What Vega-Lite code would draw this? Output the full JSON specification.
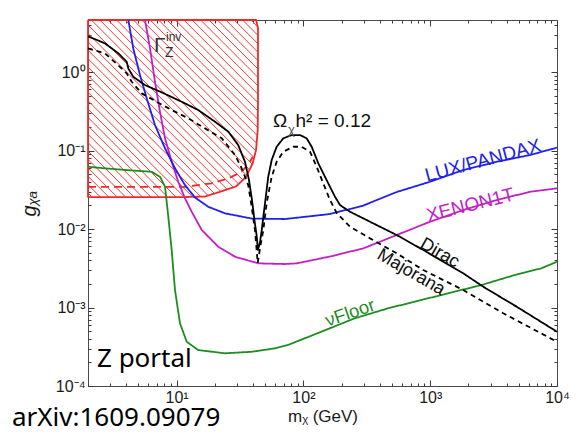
{
  "$schema": "https://vega.github.io/schema/vega-lite/v6.json",
  "width": 469,
  "height": 366,
  "autosize": {"type": "none"},
  "padding": {"left": 88, "top": 20, "right": 21, "bottom": 49},
  "background": "white",
  "config": {
    "view": {"stroke": "#4a4a4a", "strokeWidth": 1},
    "axis": {
      "domain": false,
      "grid": false,
      "tickColor": "#3a3a3a",
      "tickWidth": 1,
      "labelFont": "Liberation Sans",
      "labelFontSize": 16,
      "labelColor": "#1a1a1a",
      "titleFont": "Liberation Sans",
      "titleFontWeight": "normal",
      "titleColor": "#1a1a1a"
    },
    "text": {"font": "Liberation Sans"}
  },
  "datasets": {
    "curves": [
      {"s": "Zinv", "m": 2, "g": 4.6}, {"s": "Zinv", "m": 2, "g": 0.02554}, {"s": "Zinv", "m": 11.86, "g": 0.02554},
      {"s": "Zinv", "m": 16.7, "g": 0.0259}, {"s": "Zinv", "m": 21.7, "g": 0.0296}, {"s": "Zinv", "m": 29.4, "g": 0.0348},
      {"s": "Zinv", "m": 35.2, "g": 0.0459}, {"s": "Zinv", "m": 39.8, "g": 0.0686}, {"s": "Zinv", "m": 42.3, "g": 0.1014},
      {"s": "Zinv", "m": 43.6, "g": 0.182}, {"s": "Zinv", "m": 43.83, "g": 0.44}, {"s": "Zinv", "m": 43.83, "g": 3.63},
      {"s": "Zinv", "m": 42.3, "g": 4.6}, {"s": "Zinv", "m": 2, "g": 4.6},
      {"s": "Zdash", "m": 2, "g": 0.0345}, {"s": "Zdash", "m": 11.64, "g": 0.0345}, {"s": "Zdash", "m": 18.9, "g": 0.0382},
      {"s": "Zdash", "m": 25.6, "g": 0.0442}, {"s": "Zdash", "m": 32.6, "g": 0.0536}, {"s": "Zdash", "m": 37.9, "g": 0.0719},
      {"s": "Zdash", "m": 39.8, "g": 0.0833},
      {"s": "nuFloor", "m": 2, "g": 0.0621}, {"s": "nuFloor", "m": 2.72, "g": 0.0593}, {"s": "nuFloor", "m": 4.7, "g": 0.0553},
      {"s": "nuFloor", "m": 6.36, "g": 0.0536}, {"s": "nuFloor", "m": 7.39, "g": 0.0463}, {"s": "nuFloor", "m": 8.1, "g": 0.0345},
      {"s": "nuFloor", "m": 8.6, "g": 0.01433}, {"s": "nuFloor", "m": 9.14, "g": 0.0054}, {"s": "nuFloor", "m": 9.71, "g": 0.00167},
      {"s": "nuFloor", "m": 10.63, "g": 0.000629}, {"s": "nuFloor", "m": 12.01, "g": 0.000366}, {"s": "nuFloor", "m": 14.8, "g": 0.000287},
      {"s": "nuFloor", "m": 24.1, "g": 0.000261}, {"s": "nuFloor", "m": 39.1, "g": 0.000273}, {"s": "nuFloor", "m": 59.7, "g": 0.000302},
      {"s": "nuFloor", "m": 75.5, "g": 0.000333}, {"s": "nuFloor", "m": 138.3, "g": 0.000491}, {"s": "nuFloor", "m": 253.7, "g": 0.000728},
      {"s": "nuFloor", "m": 464.5, "g": 0.000976}, {"s": "nuFloor", "m": 850.6, "g": 0.001245}, {"s": "nuFloor", "m": 1381, "g": 0.001516},
      {"s": "nuFloor", "m": 2528, "g": 0.001932}, {"s": "nuFloor", "m": 4636, "g": 0.002592}, {"s": "nuFloor", "m": 7516, "g": 0.003155},
      {"s": "nuFloor", "m": 10000, "g": 0.00383},
      {"s": "XENON1T", "m": 5.63, "g": 4.6}, {"s": "XENON1T", "m": 6.17, "g": 2.0}, {"s": "XENON1T", "m": 6.75, "g": 0.752},
      {"s": "XENON1T", "m": 7.39, "g": 0.312}, {"s": "XENON1T", "m": 8.1, "g": 0.1429}, {"s": "XENON1T", "m": 9.14, "g": 0.0719},
      {"s": "XENON1T", "m": 10.3, "g": 0.04}, {"s": "XENON1T", "m": 11.64, "g": 0.0246}, {"s": "XENON1T", "m": 13.15, "g": 0.0166},
      {"s": "XENON1T", "m": 15.8, "g": 0.0097}, {"s": "XENON1T", "m": 21.3, "g": 0.00594}, {"s": "XENON1T", "m": 28.9, "g": 0.00443},
      {"s": "XENON1T", "m": 44.2, "g": 0.00365}, {"s": "XENON1T", "m": 71.5, "g": 0.00358}, {"s": "XENON1T", "m": 88.5, "g": 0.00365},
      {"s": "XENON1T", "m": 162, "g": 0.00446}, {"s": "XENON1T", "m": 296.7, "g": 0.00567}, {"s": "XENON1T", "m": 544, "g": 0.00838},
      {"s": "XENON1T", "m": 996, "g": 0.01238}, {"s": "XENON1T", "m": 1823, "g": 0.01745}, {"s": "XENON1T", "m": 3344, "g": 0.0234},
      {"s": "XENON1T", "m": 6120, "g": 0.0298}, {"s": "XENON1T", "m": 10000, "g": 0.033},
      {"s": "LUX", "m": 4.16, "g": 4.6}, {"s": "LUX", "m": 4.55, "g": 2.0}, {"s": "LUX", "m": 5.14, "g": 0.915},
      {"s": "LUX", "m": 5.81, "g": 0.462}, {"s": "LUX", "m": 6.75, "g": 0.211}, {"s": "LUX", "m": 8.1, "g": 0.1066},
      {"s": "LUX", "m": 9.71, "g": 0.0593}, {"s": "LUX", "m": 11.64, "g": 0.0363}, {"s": "LUX", "m": 13.96, "g": 0.0252},
      {"s": "LUX", "m": 17.77, "g": 0.0192}, {"s": "LUX", "m": 24.1, "g": 0.01583}, {"s": "LUX", "m": 39.1, "g": 0.01359},
      {"s": "LUX", "m": 71.5, "g": 0.0134}, {"s": "LUX", "m": 162, "g": 0.01551}, {"s": "LUX", "m": 296.7, "g": 0.0199},
      {"s": "LUX", "m": 544, "g": 0.0296}, {"s": "LUX", "m": 996, "g": 0.04}, {"s": "LUX", "m": 1823, "g": 0.0564},
      {"s": "LUX", "m": 3344, "g": 0.0719}, {"s": "LUX", "m": 6120, "g": 0.0876}, {"s": "LUX", "m": 10000, "g": 0.109},
      {"s": "Majorana", "m": 2, "g": 2.0}, {"s": "Majorana", "m": 2.72, "g": 1.73}, {"s": "Majorana", "m": 3.69, "g": 1.11},
      {"s": "Majorana", "m": 4.04, "g": 0.962}, {"s": "Majorana", "m": 4.42, "g": 0.752}, {"s": "Majorana", "m": 5.3, "g": 0.535},
      {"s": "Majorana", "m": 6.96, "g": 0.418}, {"s": "Majorana", "m": 9.14, "g": 0.328}, {"s": "Majorana", "m": 12.36, "g": 0.257},
      {"s": "Majorana", "m": 16.7, "g": 0.1916}, {"s": "Majorana", "m": 22.7, "g": 0.1429}, {"s": "Majorana", "m": 28.9, "g": 0.0876},
      {"s": "Majorana", "m": 32.6, "g": 0.0593}, {"s": "Majorana", "m": 36.7, "g": 0.0363}, {"s": "Majorana", "m": 38.9, "g": 0.0202},
      {"s": "Majorana", "m": 41.5, "g": 0.0097}, {"s": "Majorana", "m": 43.6, "g": 0.00369}, {"s": "Majorana", "m": 45.9, "g": 0.00625},
      {"s": "Majorana", "m": 48.3, "g": 0.0097}, {"s": "Majorana", "m": 51.3, "g": 0.0214}, {"s": "Majorana", "m": 56.2, "g": 0.0463},
      {"s": "Majorana", "m": 61.5, "g": 0.0719}, {"s": "Majorana", "m": 69.4, "g": 0.0965}, {"s": "Majorana", "m": 83.2, "g": 0.1117},
      {"s": "Majorana", "m": 96.9, "g": 0.1117}, {"s": "Majorana", "m": 112.7, "g": 0.0965}, {"s": "Majorana", "m": 127.2, "g": 0.0621},
      {"s": "Majorana", "m": 143.4, "g": 0.0382}, {"s": "Majorana", "m": 162, "g": 0.0234}, {"s": "Majorana", "m": 183, "g": 0.01597},
      {"s": "Majorana", "m": 233, "g": 0.01069}, {"s": "Majorana", "m": 335, "g": 0.0076}, {"s": "Majorana", "m": 544, "g": 0.0049},
      {"s": "Majorana", "m": 882, "g": 0.003}, {"s": "Majorana", "m": 1823, "g": 0.00167}, {"s": "Majorana", "m": 3770, "g": 0.000843},
      {"s": "Majorana", "m": 10000, "g": 0.000366},
      {"s": "Dirac", "m": 2, "g": 2.85}, {"s": "Dirac", "m": 2.72, "g": 2.32}, {"s": "Dirac", "m": 3.47, "g": 1.73},
      {"s": "Dirac", "m": 4.04, "g": 1.35}, {"s": "Dirac", "m": 4.16, "g": 1.11}, {"s": "Dirac", "m": 4.55, "g": 0.87},
      {"s": "Dirac", "m": 5.63, "g": 0.682}, {"s": "Dirac", "m": 7.62, "g": 0.551}, {"s": "Dirac", "m": 10.96, "g": 0.418},
      {"s": "Dirac", "m": 14.8, "g": 0.328}, {"s": "Dirac", "m": 20.1, "g": 0.2325}, {"s": "Dirac", "m": 25.6, "g": 0.1734},
      {"s": "Dirac", "m": 30.6, "g": 0.1174}, {"s": "Dirac", "m": 34.6, "g": 0.0719}, {"s": "Dirac", "m": 37.2, "g": 0.0421},
      {"s": "Dirac", "m": 39.3, "g": 0.0234}, {"s": "Dirac", "m": 41.1, "g": 0.013}, {"s": "Dirac", "m": 42.8, "g": 0.00813},
      {"s": "Dirac", "m": 43.8, "g": 0.0054}, {"s": "Dirac", "m": 45.5, "g": 0.00683}, {"s": "Dirac", "m": 46.9, "g": 0.0097},
      {"s": "Dirac", "m": 49.8, "g": 0.0214}, {"s": "Dirac", "m": 52.8, "g": 0.0463}, {"s": "Dirac", "m": 56.2, "g": 0.0756},
      {"s": "Dirac", "m": 61.5, "g": 0.1117}, {"s": "Dirac", "m": 69.4, "g": 0.1429}, {"s": "Dirac", "m": 80.8, "g": 0.1574},
      {"s": "Dirac", "m": 94.0, "g": 0.1574}, {"s": "Dirac", "m": 106.1, "g": 0.1429}, {"s": "Dirac", "m": 116.2, "g": 0.1117},
      {"s": "Dirac", "m": 131.1, "g": 0.0686}, {"s": "Dirac", "m": 147.9, "g": 0.0463}, {"s": "Dirac", "m": 162, "g": 0.0345},
      {"s": "Dirac", "m": 177.4, "g": 0.0258}, {"s": "Dirac", "m": 194.3, "g": 0.0202}, {"s": "Dirac", "m": 233, "g": 0.0166},
      {"s": "Dirac", "m": 335, "g": 0.01238}, {"s": "Dirac", "m": 544, "g": 0.00838}, {"s": "Dirac", "m": 882, "g": 0.0054},
      {"s": "Dirac", "m": 1823, "g": 0.002724}, {"s": "Dirac", "m": 2621, "g": 0.001839}, {"s": "Dirac", "m": 4808, "g": 0.001023},
      {"s": "Dirac", "m": 10000, "g": 0.000491}
    ],
    "hatch": [
      {"m": 2, "g": 0.02872, "m2": 2.15, "g2": 0.02554}, {"m": 2, "g": 0.03674, "m2": 2.505, "g2": 0.02554},
      {"m": 2, "g": 0.04701, "m2": 2.918, "g2": 0.02554}, {"m": 2, "g": 0.06015, "m2": 3.399, "g2": 0.02554},
      {"m": 2, "g": 0.07695, "m2": 3.959, "g2": 0.02554}, {"m": 2, "g": 0.09845, "m2": 4.612, "g2": 0.02554},
      {"m": 2, "g": 0.126, "m2": 5.372, "g2": 0.02554}, {"m": 2, "g": 0.1611, "m2": 6.257, "g2": 0.02554},
      {"m": 2, "g": 0.2062, "m2": 7.288, "g2": 0.02554}, {"m": 2, "g": 0.2638, "m2": 8.489, "g2": 0.02554},
      {"m": 2, "g": 0.3375, "m2": 9.886, "g2": 0.02554}, {"m": 2, "g": 0.4318, "m2": 11.52, "g2": 0.02554},
      {"m": 2, "g": 0.5525, "m2": 13.41, "g2": 0.02554}, {"m": 2, "g": 0.7068, "m2": 15.55, "g2": 0.02573},
      {"m": 2, "g": 0.9043, "m2": 17.55, "g2": 0.02708}, {"m": 2, "g": 1.157, "m2": 19.82, "g2": 0.02847},
      {"m": 2, "g": 1.48, "m2": 22.3, "g2": 0.03011}, {"m": 2, "g": 1.894, "m2": 25.05, "g2": 0.03192},
      {"m": 2, "g": 2.423, "m2": 28.09, "g2": 0.03396}, {"m": 2, "g": 3.099, "m2": 30.82, "g2": 0.0374},
      {"m": 2, "g": 3.966, "m2": 33.32, "g2": 0.04218}, {"m": 2.127, "g": 4.6, "m2": 35.76, "g2": 0.04813},
      {"m": 2.478, "g": 4.6, "m2": 37.63, "g2": 0.05672}, {"m": 2.886, "g": 4.6, "m2": 39.52, "g2": 0.06704},
      {"m": 3.362, "g": 4.6, "m2": 40.83, "g2": 0.08133}, {"m": 3.916, "g": 4.6, "m2": 42.11, "g2": 0.09904},
      {"m": 4.561, "g": 4.6, "m2": 42.73, "g2": 0.1238}, {"m": 5.313, "g": 4.6, "m2": 43.19, "g2": 0.1555},
      {"m": 6.188, "g": 4.6, "m2": 43.67, "g2": 0.1956}, {"m": 7.208, "g": 4.6, "m2": 43.75, "g2": 0.2495},
      {"m": 8.396, "g": 4.6, "m2": 43.83, "g2": 0.3183}, {"m": 9.779, "g": 4.6, "m2": 43.83, "g2": 0.4073},
      {"m": 11.39, "g": 4.6, "m2": 43.83, "g2": 0.521}, {"m": 13.27, "g": 4.6, "m2": 43.83, "g2": 0.6666},
      {"m": 15.46, "g": 4.6, "m2": 43.83, "g2": 0.8527}, {"m": 18.0, "g": 4.6, "m2": 43.83, "g2": 1.091},
      {"m": 20.97, "g": 4.6, "m2": 43.83, "g2": 1.396}, {"m": 24.43, "g": 4.6, "m2": 43.83, "g2": 1.785},
      {"m": 28.45, "g": 4.6, "m2": 43.83, "g2": 2.285}, {"m": 33.14, "g": 4.6, "m2": 43.83, "g2": 2.923},
      {"m": 38.6, "g": 4.6, "m2": 43.83, "g2": 3.739}
    ],
    "labels": [
      {"t": "Γ", "m": 6.63, "g": 1.796},
      {"t": "inv", "m": 8.25, "g": 2.48},
      {"t": "Z", "m": 8.1, "g": 1.565},
      {"t": "Ω", "m": 57.5, "g": 0.199},
      {"t": "χ", "m": 75.5, "g": 0.1621},
      {"t": "h² = 0.12", "m": 86.6, "g": 0.199},
      {"t": "LUX/PANDAX", "m": 943, "g": 0.04},
      {"t": "XENON1T", "m": 965.5, "g": 0.01238},
      {"t": "Dirac", "m": 815.5, "g": 0.00589},
      {"t": "Majorana", "m": 373.5, "g": 0.004267},
      {"t": "νFloor", "m": 155.7, "g": 0.000569},
      {"t": "Z portal", "m": 2.355, "g": 0.0001744},
      {"t": "arXiv:1609.09079", "m": 0.503, "g": 0.0000306}
    ]
  },
  "encoding": {
    "x": {"field": "m", "type": "quantitative", "scale": {"type": "log", "domain": [2, 10000], "nice": false}, "axis": null},
    "y": {"field": "g", "type": "quantitative", "scale": {"type": "log", "domain": [0.0001, 4.6], "nice": false}, "axis": null}
  },
  "layer": [
    {
      "data": {"name": "hatch"},
      "mark": {"type": "rule", "stroke": "#f03a36", "strokeWidth": 1},
      "encoding": {
        "x": {
          "field": "m", "type": "quantitative",
          "scale": {"type": "log", "domain": [2, 10000], "nice": false},
          "axis": {
            "orient": "bottom",
            "values": [10, 100, 1000, 10000],
            "labelExpr": "datum.value == 10 ? '10¹' : datum.value == 100 ? '10²' : datum.value == 1000 ? '10³' : '10⁴'",
            "tickSize": -6,
            "labelPadding": 9,
            "labelOverlap": false,
            "labelFlush": false,
            "labelBound": false,
            "title": "mᵪ (GeV)",
            "titleFontSize": 17,
            "titlePadding": 3
          }
        },
        "y": {
          "field": "g", "type": "quantitative",
          "scale": {"type": "log", "domain": [0.0001, 4.6], "nice": false},
          "axis": {
            "orient": "left",
            "values": [0.0001, 0.001, 0.01, 0.1, 1],
            "labelExpr": "datum.value == 1 ? '10⁰' : datum.value == 0.1 ? '10⁻¹' : datum.value == 0.01 ? '10⁻²' : datum.value == 0.001 ? '10⁻³' : '10⁻⁴'",
            "tickSize": -6,
            "labelPadding": 9,
            "labelOverlap": false,
            "labelFlush": false,
            "labelBound": false,
            "title": "gᵪₐ",
            "titleFontSize": 20,
            "titleFontStyle": "italic",
            "titlePadding": 16
          }
        },
        "x2": {"field": "m2"},
        "y2": {"field": "g2"}
      }
    },
    {
      "data": {"name": "curves"},
      "transform": [{"window": [{"op": "row_number", "as": "i"}]}],
      "mark": {"type": "line", "strokeWidth": 1.8, "strokeJoin": "round"},
      "encoding": {
        "x": {
          "field": "m", "type": "quantitative",
          "scale": {"type": "log", "domain": [2, 10000], "nice": false},
          "axis": {"orient": "top", "values": [10, 100, 1000, 10000], "labels": false, "tickSize": -6, "title": null}
        },
        "y": {
          "field": "g", "type": "quantitative",
          "scale": {"type": "log", "domain": [0.0001, 4.6], "nice": false},
          "axis": {"orient": "right", "values": [0.0001, 0.001, 0.01, 0.1, 1], "labels": false, "tickSize": -6, "title": null}
        },
        "detail": {"field": "s"},
        "order": {"field": "i", "type": "quantitative"},
        "color": {
          "field": "s", "type": "nominal", "legend": null,
          "scale": {
            "domain": ["Zinv", "Zdash", "nuFloor", "XENON1T", "LUX", "Majorana", "Dirac"],
            "range": ["#f02a2a", "#f02a2a", "#1f8c1f", "#c21fc6", "#2020e8", "#000000", "#000000"]
          }
        },
        "strokeDash": {
          "field": "s", "type": "nominal", "legend": null,
          "scale": {
            "domain": ["Zinv", "Zdash", "nuFloor", "XENON1T", "LUX", "Majorana", "Dirac"],
            "range": [[1, 0], [8, 5], [1, 0], [1, 0], [1, 0], [5, 4], [1, 0]]
          }
        }
      }
    },
    {
      "data": {"name": "labels"},
      "transform": [{"filter": "datum.t == 'Γ'"}],
      "mark": {"type": "text", "align": "left", "baseline": "alphabetic", "fontSize": 21, "color": "#333333"},
      "encoding": {
        "x": {
          "field": "m", "type": "quantitative",
          "scale": {"type": "log", "domain": [2, 10000], "nice": false},
          "axis": {
            "orient": "bottom",
            "values": [2, 3, 4, 5, 6, 7, 8, 9, 20, 30, 40, 50, 60, 70, 80, 90, 200, 300, 400, 500, 600, 700, 800, 900, 2000, 3000, 4000, 5000, 6000, 7000, 8000, 9000],
            "labels": false, "tickSize": -3, "title": null
          }
        },
        "y": {
          "field": "g", "type": "quantitative",
          "scale": {"type": "log", "domain": [0.0001, 4.6], "nice": false},
          "axis": {
            "orient": "left",
            "values": [0.0002, 0.0003, 0.0004, 0.0005, 0.0006, 0.0007, 0.0008, 0.0009, 0.002, 0.003, 0.004, 0.005, 0.006, 0.007, 0.008, 0.009, 0.02, 0.03, 0.04, 0.05, 0.06, 0.07, 0.08, 0.09, 0.2, 0.3, 0.4, 0.5, 0.6, 0.7, 0.8, 0.9, 2, 3, 4],
            "labels": false, "tickSize": -3, "title": null
          }
        },
        "text": {"field": "t"}
      }
    },
    {
      "data": {"name": "labels"},
      "transform": [{"filter": "datum.t == 'inv'"}],
      "mark": {"type": "text", "align": "left", "baseline": "alphabetic", "fontSize": 12, "color": "#333333"},
      "encoding": {
        "x": {
          "field": "m", "type": "quantitative",
          "scale": {"type": "log", "domain": [2, 10000], "nice": false},
          "axis": {
            "orient": "top",
            "values": [2, 3, 4, 5, 6, 7, 8, 9, 20, 30, 40, 50, 60, 70, 80, 90, 200, 300, 400, 500, 600, 700, 800, 900, 2000, 3000, 4000, 5000, 6000, 7000, 8000, 9000],
            "labels": false, "tickSize": -3, "title": null
          }
        },
        "y": {
          "field": "g", "type": "quantitative",
          "scale": {"type": "log", "domain": [0.0001, 4.6], "nice": false},
          "axis": {
            "orient": "right",
            "values": [0.0002, 0.0003, 0.0004, 0.0005, 0.0006, 0.0007, 0.0008, 0.0009, 0.002, 0.003, 0.004, 0.005, 0.006, 0.007, 0.008, 0.009, 0.02, 0.03, 0.04, 0.05, 0.06, 0.07, 0.08, 0.09, 0.2, 0.3, 0.4, 0.5, 0.6, 0.7, 0.8, 0.9, 2, 3, 4],
            "labels": false, "tickSize": -3, "title": null
          }
        },
        "text": {"field": "t"}
      }
    },
    {
      "data": {"name": "labels"},
      "transform": [{"filter": "datum.t == 'Z'"}],
      "mark": {"type": "text", "align": "left", "baseline": "alphabetic", "fontSize": 14, "color": "#333333"},
      "encoding": {"text": {"field": "t"}}
    },
    {
      "data": {"name": "labels"},
      "transform": [{"filter": "datum.t == 'Ω' || datum.t == 'h² = 0.12'"}],
      "mark": {"type": "text", "align": "left", "baseline": "alphabetic", "fontSize": 19, "color": "#111111"},
      "encoding": {"text": {"field": "t"}}
    },
    {
      "data": {"name": "labels"},
      "transform": [{"filter": "datum.t == 'χ'"}],
      "mark": {"type": "text", "align": "left", "baseline": "alphabetic", "fontSize": 13, "color": "#555555"},
      "encoding": {"text": {"field": "t"}}
    },
    {
      "data": {"name": "labels"},
      "transform": [{"filter": "datum.t == 'LUX/PANDAX'"}],
      "mark": {"type": "text", "align": "left", "baseline": "alphabetic", "fontSize": 19, "angle": 345, "color": "#2020e8"},
      "encoding": {"text": {"field": "t"}}
    },
    {
      "data": {"name": "labels"},
      "transform": [{"filter": "datum.t == 'XENON1T'"}],
      "mark": {"type": "text", "align": "left", "baseline": "alphabetic", "fontSize": 19, "angle": 346, "color": "#c21fc6"},
      "encoding": {"text": {"field": "t"}}
    },
    {
      "data": {"name": "labels"},
      "transform": [{"filter": "datum.t == 'Dirac' || datum.t == 'Majorana'"}],
      "mark": {"type": "text", "align": "left", "baseline": "alphabetic", "fontSize": 18, "angle": 30, "color": "#111111"},
      "encoding": {"text": {"field": "t"}}
    },
    {
      "data": {"name": "labels"},
      "transform": [{"filter": "datum.t == 'νFloor'"}],
      "mark": {"type": "text", "align": "left", "baseline": "alphabetic", "fontSize": 18.5, "angle": 341, "color": "#1f8c1f"},
      "encoding": {"text": {"field": "t"}}
    },
    {
      "data": {"name": "labels"},
      "transform": [{"filter": "datum.t == 'Z portal' || datum.t == 'arXiv:1609.09079'"}],
      "mark": {"type": "text", "align": "left", "baseline": "alphabetic", "font": "Noto Sans", "fontSize": 26, "color": "#000000"},
      "encoding": {"text": {"field": "t"}}
    }
  ],
  "resolve": {"axis": {"x": "independent", "y": "independent"}}
}
